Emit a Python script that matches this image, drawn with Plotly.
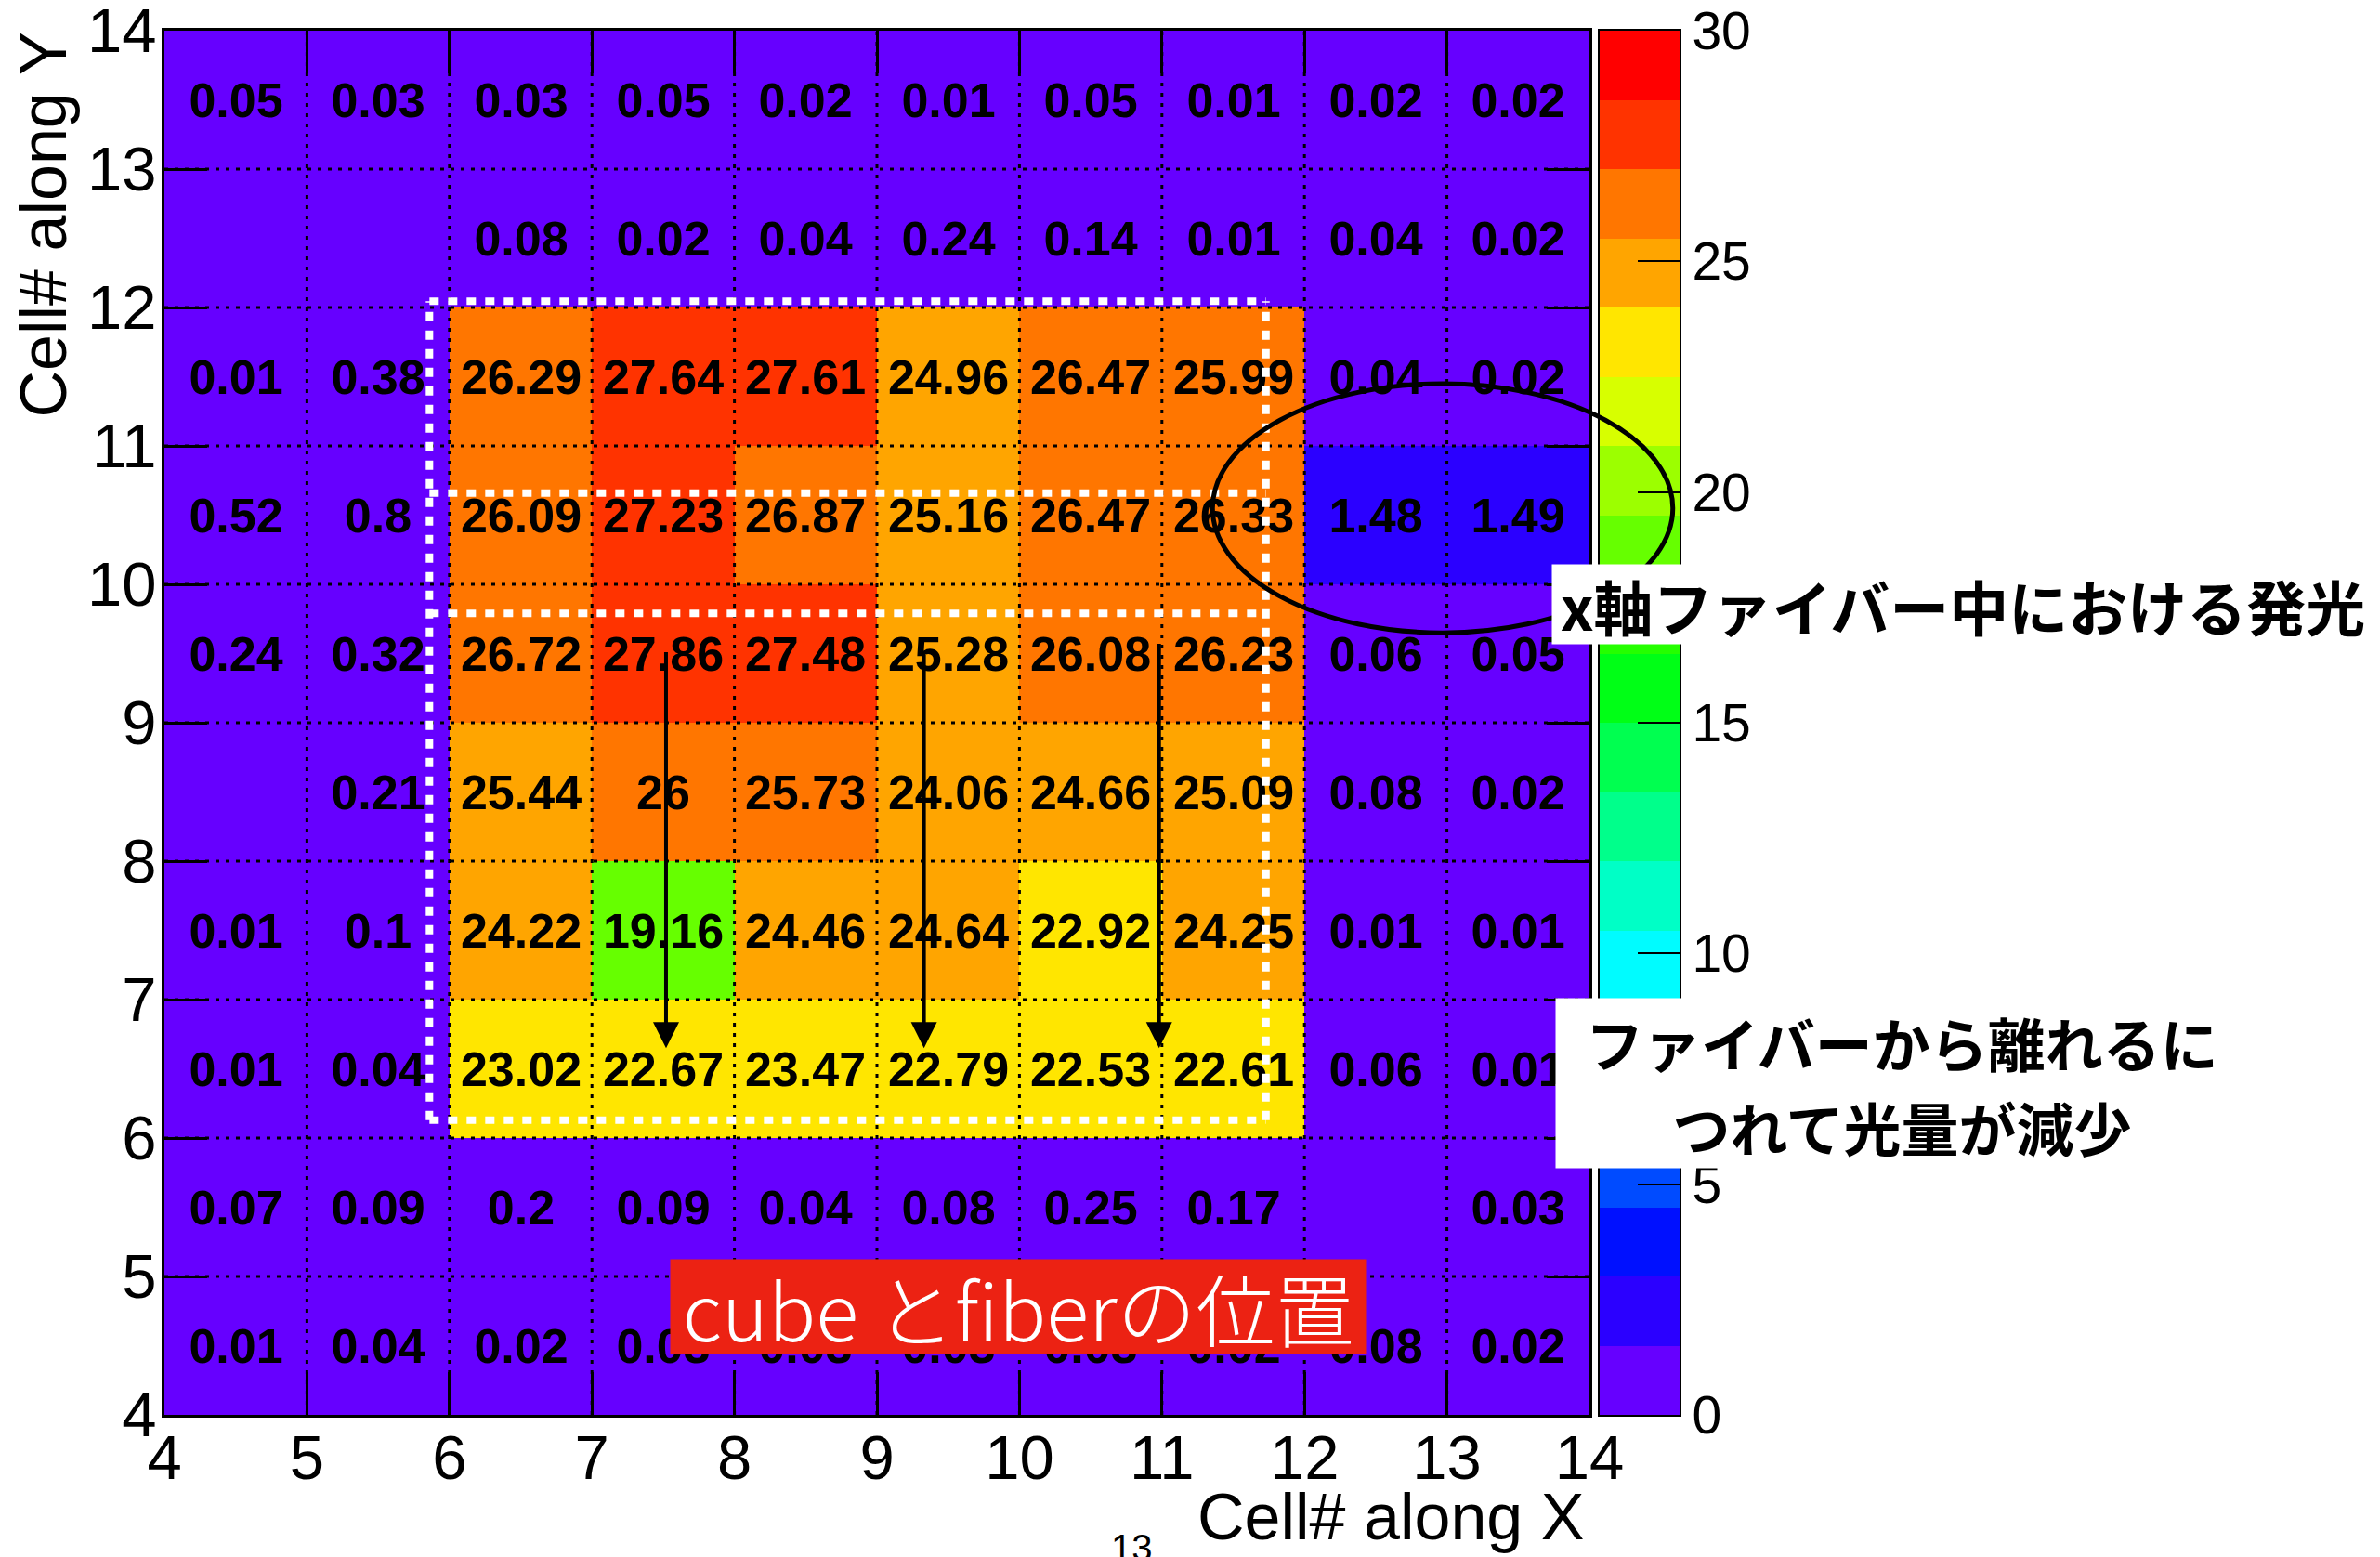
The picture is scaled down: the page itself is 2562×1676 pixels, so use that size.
import plotly.graph_objects as go

# ---------------- data ----------------
x_edges = [4, 5, 6, 7, 8, 9, 10, 11, 12, 13, 14]
y_edges = [4, 5, 6, 7, 8, 9, 10, 11, 12, 13, 14]
tick_vals = [4, 5, 6, 7, 8, 9, 10, 11, 12, 13, 14]

# one list per row of cells (x = 4..13); None = empty bin
row_y4 = [0.01, 0.04, 0.02, 0.03, 0.03, 0.03, 0.03, 0.02, 0.08, 0.02]
row_y5 = [0.07, 0.09, 0.2, 0.09, 0.04, 0.08, 0.25, 0.17, None, 0.03]
row_y6 = [0.01, 0.04, 23.02, 22.67, 23.47, 22.79, 22.53, 22.61, 0.06, 0.01]
row_y7 = [0.01, 0.1, 24.22, 19.16, 24.46, 24.64, 22.92, 24.25, 0.01, 0.01]
row_y8 = [None, 0.21, 25.44, 26, 25.73, 24.06, 24.66, 25.09, 0.08, 0.02]
row_y9 = [0.24, 0.32, 26.72, 27.86, 27.48, 25.28, 26.08, 26.23, 0.06, 0.05]
row_y10 = [0.52, 0.8, 26.09, 27.23, 26.87, 25.16, 26.47, 26.33, 1.48, 1.49]
row_y11 = [0.01, 0.38, 26.29, 27.64, 27.61, 24.96, 26.47, 25.99, 0.04, 0.02]
row_y12 = [None, None, 0.08, 0.02, 0.04, 0.24, 0.14, 0.01, 0.04, 0.02]
row_y13 = [0.05, 0.03, 0.03, 0.05, 0.02, 0.01, 0.05, 0.01, 0.02, 0.02]

z_rows = [row_y4, row_y5, row_y6, row_y7, row_y8, row_y9, row_y10, row_y11, row_y12, row_y13]

cbar_ticks = [0, 5, 10, 15, 20, 25, 30]
cbar_edges = [0, 1.5, 3, 4.5, 6, 7.5, 9, 10.5, 12, 13.5, 15, 16.5, 18, 19.5, 21,
              22.5, 24, 25.5, 27, 28.5, 30]

band_colors = ["#6600FF", "#2B00FF", "#0010FF", "#004BFF", "#0086FF", "#00C1FF",
               "#00FCFF", "#00FFC6", "#00FF8B", "#00FF50", "#00FF16", "#25FF00",
               "#66FF00", "#9CFF00", "#D7FF00", "#FFE600", "#FFA500", "#FF7600",
               "#FF3300", "#FF0000"]

# ---------------- helpers ----------------
W, H = 2562, 1676
ML, MT, MB = 177, 33, 153
PLOT_R = 1711          # right edge of the cell map
CB_L, CB_R = 1722, 1808  # palette bar
MR = W - CB_R
PW = CB_R - ML
PH = H - MT - MB


def fmt(v):
    if v is None:
        return ""
    return f"{v:.2f}".rstrip("0").rstrip(".")


def px_x(p):   # absolute pixel -> paper
    return (p - ML) / PW


def px_y(p):
    return (H - MB - p) / PH


def dpx_x(v):  # data x -> absolute pixel
    return ML + (v - 4) / 10.0 * (PLOT_R - ML)


def dpx_y(v):
    return (H - MB) - (v - 4) / 10.0 * PH


text_rows = [[fmt(v) for v in r] for r in z_rows]

n = len(band_colors)
colorscale = []
for i, c in enumerate(band_colors):
    colorscale.append([i / n, c])
    colorscale.append([(i + 1) / n, c])

FONT = "Liberation Sans"
JFONT = "Noto Sans CJK JP"

fig = go.Figure()
fig.add_trace(go.Heatmap(
    x=x_edges, y=y_edges, z=z_rows, text=text_rows,
    texttemplate="<b>%{text}</b>",
    textfont=dict(family=FONT, size=52, color="black"),
    colorscale=colorscale, zmin=-0.05, zmax=30, zsmooth=False,
    hoverinfo="skip", showscale=False,
))

# palette bar drawn as its own small heatmap
cb_mids = [(cbar_edges[i] + cbar_edges[i + 1]) / 2 for i in range(len(cbar_edges) - 1)]
fig.add_trace(go.Heatmap(
    x=[0, 1], y=cbar_edges, z=[[m] for m in cb_mids],
    colorscale=colorscale, zmin=-0.05, zmax=30, zsmooth=False,
    hoverinfo="skip", showscale=False, xaxis="x2", yaxis="y2",
))

axis_common = dict(
    range=[4, 14], tickvals=tick_vals, ticktext=[str(t) for t in tick_vals],
    ticks="inside", ticklen=46, tickwidth=3, tickcolor="black",
    showline=True, linewidth=3, linecolor="black", mirror="ticks",
    showgrid=False, zeroline=False, layer="above traces",
    tickfont=dict(family=FONT, size=67, color="black"),
    ticklabeloverflow="allow", fixedrange=True,
)

fig.update_layout(
    width=W, height=H,
    margin=dict(l=ML, r=MR, t=MT, b=MB, autoexpand=False),
    paper_bgcolor="white", plot_bgcolor="#6600FF",
    xaxis=dict(**axis_common, domain=[0, px_x(PLOT_R)], anchor="y", ticklabelstandoff=-14),
    yaxis=dict(**axis_common, domain=[0, 1], anchor="x", ticklabelstandoff=-8),
    xaxis2=dict(domain=[px_x(CB_L), 1], anchor="y2", range=[0, 1], showticklabels=False,
                ticks="", showline=True, linewidth=2, linecolor="black", mirror=True,
                showgrid=False, zeroline=False, fixedrange=True),
    yaxis2=dict(domain=[0, 1], anchor="x2", side="right", range=[0, 30],
                tickvals=cbar_ticks, ticktext=[str(t) for t in cbar_ticks],
                ticks="inside", ticklen=45, tickwidth=2, tickcolor="black",
                showline=True, linewidth=2, linecolor="black", mirror=True,
                showgrid=False, zeroline=False, layer="above traces",
                tickfont=dict(family=FONT, size=57, color="black"),
                ticklabeloverflow="allow", fixedrange=True),
    showlegend=False,
)

shapes = []
# dotted grid lines at interior integer positions
for v in tick_vals[1:-1]:
    shapes.append(dict(type="line", xref="x", yref="y domain", x0=v, x1=v, y0=0, y1=1,
                       line=dict(color="black", width=3, dash="4px,7px"), layer="above"))
    shapes.append(dict(type="line", xref="x domain", yref="y", x0=0, x1=1, y0=v, y1=v,
                       line=dict(color="black", width=3, dash="4px,7px"), layer="above"))

# white dotted fiber outlines
wl = dict(color="white", width=8, dash="10px,10px")
xL, xR = 5.86, 11.73
for yv in [12.045, 10.66, 9.79, 6.13]:
    shapes.append(dict(type="line", xref="x", yref="y", x0=xL, x1=xR, y0=yv, y1=yv, line=wl, layer="above"))
for xv in [xL, xR]:
    shapes.append(dict(type="line", xref="x", yref="y", x0=xv, x1=xv, y0=6.13, y1=12.045, line=wl, layer="above"))

# ellipse around x-fiber light (drawn in paper space so it may cross the palette)
ecx, ecy, erx, ery = 12.97, 10.55, 1.615, 0.90
shapes.append(dict(type="circle", xref="paper", yref="paper",
                   x0=px_x(dpx_x(ecx - erx)), x1=px_x(dpx_x(ecx + erx)),
                   y0=px_y(dpx_y(ecy - ery)), y1=px_y(dpx_y(ecy + ery)),
                   line=dict(color="black", width=5), layer="above"))
fig.update_layout(shapes=shapes)

ann = []
# arrows
for ax_, ay_ in [(7.52, 9.52), (9.33, 9.50), (10.98, 9.58)]:
    ann.append(dict(x=ax_, y=6.65, ax=ax_, ay=ay_, xref="x", yref="y", axref="x", ayref="y",
                    text="", showarrow=True, arrowhead=2, arrowsize=1.4, arrowwidth=4,
                    arrowcolor="black", standoff=0, startstandoff=0))

# axis titles
ann.append(dict(text="Cell# along Y", textangle=-90, xref="paper", yref="paper",
                x=px_x(46), y=1.0, xanchor="center", yanchor="top", showarrow=False,
                font=dict(family=FONT, size=70, color="black")))
ann.append(dict(text="Cell# along X", xref="paper", yref="paper",
                x=px_x(1707), y=px_y(1633), xanchor="right", yanchor="middle", showarrow=False,
                font=dict(family=FONT, size=70, color="black")))
ann.append(dict(text="13", xref="paper", yref="paper",
                x=px_x(1218), y=px_y(1666), xanchor="center", yanchor="middle", showarrow=False,
                font=dict(family=FONT, size=40, color="black")))

# text boxes
ann.append(dict(text="<b>x軸ファイバー中における発光</b>", xref="paper", yref="paper",
                x=px_x(2113), y=px_y(650.5), xanchor="center", yanchor="middle",
                width=884, height=85, bgcolor="white", borderpad=0, showarrow=False,
                font=dict(family=JFONT, size=64, color="black")))
ann.append(dict(text="<b>ファイバーから離れるに</b>", xref="paper", yref="paper",
                x=px_x(2047.5), y=px_y(1121.5), xanchor="center", yanchor="middle",
                width=745, height=93, bgcolor="white", borderpad=0, showarrow=False,
                font=dict(family=JFONT, size=62, color="black")))
ann.append(dict(text="<b>つれて光量が減少</b>", xref="paper", yref="paper",
                x=px_x(2047.5), y=px_y(1212.5), xanchor="center", yanchor="middle",
                width=745, height=89, bgcolor="white", borderpad=0, showarrow=False,
                font=dict(family=JFONT, size=62, color="black")))
ann.append(dict(text="cube とfiberの位置", xref="paper", yref="paper",
                x=px_x(1096), y=px_y(1406.5), xanchor="center", yanchor="middle",
                width=748, height=101, bgcolor="#EC2213", borderpad=0, showarrow=False,
                font=dict(family=JFONT, size=85, color="white", weight=300)))

fig.update_layout(annotations=ann)

fig.write_html("out.html", include_plotlyjs=True, config={"displayModeBar": False},
               post_script="document.body.style.margin='0';document.body.style.overflow='hidden';")
